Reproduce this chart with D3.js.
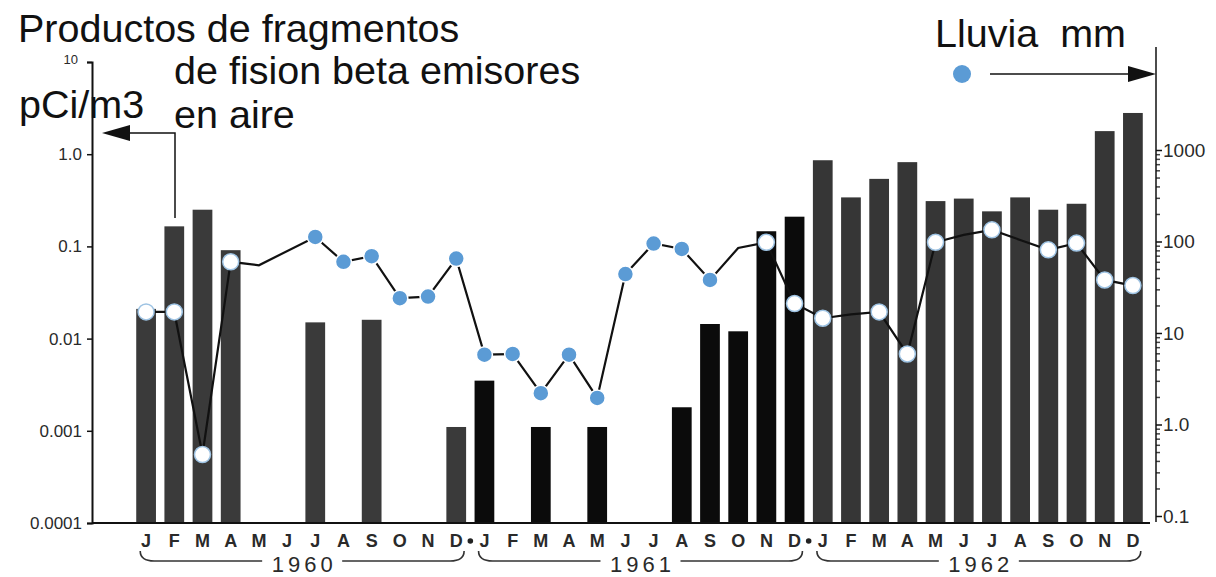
<!DOCTYPE html>
<html>
<head>
<meta charset="utf-8">
<script src="https://cdn.jsdelivr.net/npm/d3@7"></script>
<style>
  body { margin: 0; background: #fff; }
  svg { display: block; }
  .title { font-family: "Liberation Sans", Arial, sans-serif; font-size: 39.5px; fill: #111; }
  .tick-lbl { font-family: "Liberation Sans", Arial, sans-serif; font-size: 17px; fill: #2a2a2a; }
  .month { font-family: "Liberation Sans", Arial, sans-serif; font-size: 18px; font-weight: bold; fill: #2a2a2a; }
  .year { font-family: "Liberation Sans", Arial, sans-serif; font-size: 22px; fill: #2a2a2a; letter-spacing: 4px; }
</style>
</head>
<body>
<svg id="chart"></svg>
<script>
// months and years on the x axis
var months = ['J', 'F', 'M', 'A', 'M', 'J', 'J', 'A', 'S', 'O', 'N', 'D'];
var years = ['1960', '1961', '1962'];

// beta emitter fission products in air, pCi/m3 (null = no bar)
var fission1960 = [0.021, 0.165, 0.25, 0.091, null, null, 0.015, null, 0.016, null, null, 0.0011];
var fission1961 = [0.0035, null, 0.0011, null, 0.0011, null, null, 0.0018, 0.0144, 0.012, 0.146, 0.21];
var fission1962 = [0.86, 0.34, 0.54, 0.82, 0.31, 0.33, 0.24, 0.34, 0.25, 0.29, 1.78, 2.8];

// rainfall, mm (null = no reading)
var rain1960 = [17, 17, 0.47, 60, 55, null, 112, 60, 69, 24, 25, 65];
var rain1961 = [5.8, 5.9, 2.2, 5.8, 1.95, 44, 95, 83, 38, 85, 98, 21];
var rain1962 = [14.5, 16, 17, 5.9, 98, 118, 134, 104, 81, 96, 38, 33];

// 1 = a dot is drawn for that month
var rainDot1960 = [1, 1, 1, 1, 0, 0, 1, 1, 1, 1, 1, 1];
var rainDot1961 = [1, 1, 1, 1, 1, 1, 1, 1, 1, 0, 1, 1];
var rainDot1962 = [1, 0, 1, 1, 1, 0, 1, 0, 1, 1, 1, 1];

var leftTicks = [10, 1, 0.1, 0.01, 0.001, 0.0001];
var leftTickLabels = ['10', '1.0', '0.1', '0.01', '0.001', '0.0001'];
var rightTicks = [1000, 100, 10, 1, 0.1];
var rightTickLabels = ['1000', '100', '10', '1.0', '0.1'];

var W = 1216, H = 577;
var barColor = { '1960': '#3a3a3a', '1961': '#0b0b0b', '1962': '#363636' };
var blue = '#5b9bd5';

var fission = [fission1960, fission1961, fission1962];
var rain = [rain1960, rain1961, rain1962];
var rainDot = [rainDot1960, rainDot1961, rainDot1962];

var rows = [];
years.forEach(function(yr, yi) {
    months.forEach(function(m, mi) {
        rows.push({
            i: yi * 12 + mi, year: yr, month: m,
            fission: fission[yi][mi], rain: rain[yi][mi], dot: rainDot[yi][mi]
        });
    });
});

var svg = d3.select('#chart').attr('width', W).attr('height', H);

var x = d3.scaleBand()
    .domain(d3.range(36))
    .range([132, 1147])
    .paddingInner(0.3)
    .paddingOuter(0.15);
var yL = d3.scaleLog().domain([0.0001, 10]).range([523, 62]);
var yR = d3.scaleLog().domain([0.1, 1000]).range([516, 150]);

// bars
svg.append('g').selectAll('rect')
    .data(rows.filter(function(d) { return d.fission != null; }))
    .enter()
    .append('rect')
    .attr('x', function(d) { return x(d.i); })
    .attr('width', x.bandwidth())
    .attr('y', function(d) { return yL(d.fission); })
    .attr('height', function(d) { return yL(0.0001) - yL(d.fission); })
    .attr('fill', function(d) { return barColor[d.year]; });

// baseline
svg.append('line')
    .attr('x1', 92).attr('x2', 1150)
    .attr('y1', yL(0.0001)).attr('y2', yL(0.0001))
    .attr('stroke', '#111').attr('stroke-width', 2);

// left axis
var axL = d3.axisLeft(yL).tickValues(leftTicks).tickSize(5)
    .tickFormat(function(d, i) { return leftTickLabels[i]; });
var gL = svg.append('g').attr('transform', 'translate(92,0)').call(axL);
gL.select('.domain').attr('stroke', '#111').attr('stroke-width', 2);
gL.selectAll('.tick line').attr('stroke', '#111').attr('stroke-width', 1.5);
gL.selectAll('.tick text').attr('class', 'tick-lbl').attr('x', -10).attr('font-size', null).attr('font-family', null);
gL.selectAll('.tick').filter(function(d) { return d === 10; })
    .select('text').style('font-size', '13px').attr('x', -14).attr('dy', '0.1em');

// right axis with log minor ticks
var minor = [];
[0.1, 1, 10, 100, 1000].forEach(function(dec) {
    for (var k = 2; k <= 9; k++) { if (dec * k <= 1000) minor.push(dec * k); }
});
var gRm = svg.append('g').attr('transform', 'translate(1156,0)')
    .call(d3.axisRight(yR).tickValues(minor).tickSize(4).tickFormat(''));
gRm.select('.domain').remove();
gRm.selectAll('.tick line').attr('stroke', '#444').attr('stroke-width', 1.5);

var axR = d3.axisRight(yR).tickValues(rightTicks).tickSize(6)
    .tickFormat(function(d, i) { return rightTickLabels[i]; });
var gR = svg.append('g').attr('transform', 'translate(1156,0)').call(axR);
gR.select('.domain').remove();
gR.selectAll('.tick line').attr('stroke', '#111').attr('stroke-width', 1.5);
gR.selectAll('.tick text').attr('class', 'tick-lbl').attr('x', 7).style('font-size', '19px')
    .attr('font-size', null).attr('font-family', null);
svg.append('line')
    .attr('x1', 1156).attr('x2', 1156).attr('y1', 47).attr('y2', 522)
    .attr('stroke', '#111').attr('stroke-width', 1.5);

// rain line
var rainRows = rows.filter(function(d) { return d.rain != null; });
var line = d3.line()
    .x(function(d) { return x(d.i) + x.bandwidth() / 2; })
    .y(function(d) { return yR(d.rain); });
svg.append('path')
    .datum(rainRows)
    .attr('d', line)
    .attr('fill', 'none')
    .attr('stroke', '#111')
    .attr('stroke-width', 2.2);

// dots: white where they sit inside a bar
function inBar(d) { return d.fission != null && yL(d.fission) < yR(d.rain); }
svg.append('g').selectAll('circle')
    .data(rainRows.filter(function(d) { return d.dot; }))
    .enter()
    .append('circle')
    .attr('cx', function(d) { return x(d.i) + x.bandwidth() / 2; })
    .attr('cy', function(d) { return yR(d.rain); })
    .attr('r', 8)
    .attr('fill', function(d) { return inBar(d) ? '#ffffff' : blue; })
    .attr('stroke', function(d) { return inBar(d) ? '#9ec3e3' : '#ffffff'; })
    .attr('stroke-width', 1.5);

// month labels
svg.append('g').selectAll('text')
    .data(rows)
    .enter()
    .append('text')
    .attr('class', 'month')
    .attr('x', function(d) { return x(d.i) + x.bandwidth() / 2; })
    .attr('y', 547)
    .attr('text-anchor', 'middle')
    .text(function(d) { return d.month; });

// dots between years
svg.append('g').selectAll('circle')
    .data([11, 23])
    .enter()
    .append('circle')
    .attr('cx', function(d) { return x(d) + x.step() / 2 + x.bandwidth() / 2; })
    .attr('cy', 541)
    .attr('r', 2.8)
    .attr('fill', '#222');

// braces and year labels
years.forEach(function(yr, yi) {
    var x0 = x(yi * 12) + 4, x1 = x(yi * 12 + 11) + x.bandwidth() - 2;
    var cx = (x0 + x1) / 2;
    var by = 561;
    var p = d3.path();
    p.moveTo(x0, 551);
    p.quadraticCurveTo(x0, by, x0 + 14, by);
    p.lineTo(cx - 40, by);
    p.moveTo(cx + 40, by);
    p.lineTo(x1 - 14, by);
    p.quadraticCurveTo(x1, by, x1, 551);
    svg.append('path').attr('d', p.toString())
        .attr('fill', 'none').attr('stroke', '#333').attr('stroke-width', 1.6);
    svg.append('text').attr('class', 'year')
        .attr('x', cx + 2).attr('y', 572).attr('text-anchor', 'middle')
        .text(yr);
});

// titles
var titles = [
    { t: 'Productos de fragmentos', x: 18, y: 42 },
    { t: 'de fision beta emisores', x: 174, y: 84 },
    { t: 'pCi/m3', x: 19, y: 118 },
    { t: 'en aire', x: 174, y: 128 },
    { t: 'Lluvia  mm', x: 935, y: 47 }
];
svg.append('g').selectAll('text')
    .data(titles)
    .enter()
    .append('text')
    .attr('class', 'title')
    .attr('x', function(d) { return d.x; })
    .attr('y', function(d) { return d.y; })
    .style('white-space', 'pre')
    .text(function(d) { return d.t; });

// left arrow (to the pCi/m3 axis)
svg.append('path')
    .attr('d', 'M175,218 L175,133 L128,133')
    .attr('fill', 'none').attr('stroke', '#111').attr('stroke-width', 1.5);
svg.append('path')
    .attr('d', 'M102,133 L130,125 L130,141 Z')
    .attr('fill', '#111');

// right arrow (to the rain axis)
svg.append('circle').attr('cx', 962).attr('cy', 74).attr('r', 9).attr('fill', blue);
svg.append('line')
    .attr('x1', 990).attr('x2', 1132).attr('y1', 74).attr('y2', 74)
    .attr('stroke', '#111').attr('stroke-width', 1.5);
svg.append('path')
    .attr('d', 'M1156,74 L1128,66 L1128,82 Z')
    .attr('fill', '#111');
</script>
</body>
</html>
